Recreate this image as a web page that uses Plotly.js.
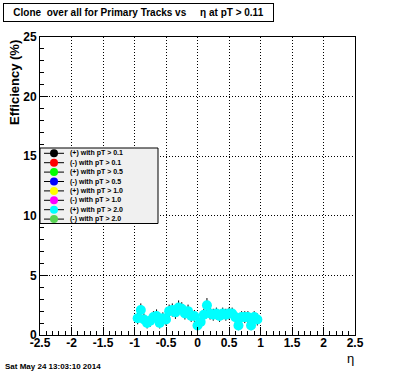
<!DOCTYPE html>
<html>
<head>
<meta charset="utf-8">
<script src="https://cdn.plot.ly/plotly-3.0.1.min.js"></script>
<style>html,body{margin:0;padding:0;background:#fff;}#chart{width:396px;height:372px;}</style>
</head>
<body>
<div id="chart"></div>
<script>
// ---- data ----
const eta = [-0.95,-0.90,-0.85,-0.80,-0.75,-0.70,-0.65,-0.60,-0.55,-0.50,-0.45,-0.40,-0.35,-0.30,-0.25,-0.20,-0.15,-0.10,-0.05,0.00,0.05,0.10,0.15,0.20,0.25,0.30,0.35,0.40,0.45,0.50,0.55,0.60,0.65,0.70,0.75,0.80,0.85,0.90,0.95];
const eff = [1.4,2.1,1.3,1.0,1.2,1.5,1.6,1.0,1.4,1.3,2.0,2.1,1.9,2.3,2.2,1.8,2.0,1.6,1.6,0.8,1.1,1.7,2.5,1.8,1.7,1.8,1.6,1.8,1.7,1.8,1.8,1.5,0.8,1.5,1.5,1.5,0.8,1.5,1.3];
const effErr = [0.5,0.55,0.5,0.45,0.5,0.5,0.55,0.45,0.5,0.5,0.55,0.55,0.55,0.6,0.55,0.5,0.55,0.5,0.5,0.4,0.45,0.5,0.6,0.5,0.5,0.5,0.5,0.5,0.5,0.5,0.5,0.5,0.4,0.5,0.5,0.5,0.4,0.5,0.5];
const legendLabels = ["(+) with pT > 0.1","(-) with pT > 0.1","(+) with pT > 0.5","(-) with pT > 0.5","(+) with pT > 1.0","(-) with pT > 1.0","(+) with pT > 2.0","(-) with pT > 2.0"];
const legendColors = ["#000000","#ff0000","#00ff00","#0000ff","#ffff00","#ff00ff","#00ffff","#59d454"];
const xTickVals = [-2.5,-2,-1.5,-1,-0.5,0,0.5,1,1.5,2,2.5];
const xTickText = ["-2.5","-2","-1.5","-1","-0.5","0","0.5","1","1.5","2","2.5"];
const yTickVals = [0,5,10,15,20,25];
const yTickText = ["0","5","10","15","20","25"];
const titleText = "Clone\u00a0 over all for Primary Tracks vs\u00a0\u00a0\u00a0\u00a0 \u03b7 at pT > 0.11";
const dateText = "Sat May 24 13:03:10 2014";

// ---- layout geometry ----
const W = 396, H = 372;
const L = 40, R = 355, T = 37, B = 335;
const px = x => (x - L) / (R - L);
const py = y => (B - y) / (B - T);
const FONT = "Liberation Sans, Arial, Helvetica, sans-serif";

const traces = [{
  type: 'scatter', mode: 'markers', x: eta, y: eff,
  marker: {color: '#00ffff', size: 10, line: {width: 0}},
  error_y: {type: 'data', array: effErr, visible: true, color: '#000000', thickness: 1, width: 0},
  showlegend: false, hoverinfo: 'skip'
}];

const shapes = [];
const annotations = [];

// legend box
shapes.push({type: 'rect', xref: 'paper', yref: 'paper', x0: px(40), x1: px(158), y0: py(148), y1: py(223.5),
  fillcolor: '#f0f0f0', line: {color: '#000000', width: 1}, layer: 'above'});
legendLabels.forEach((lab, i) => {
  const cy = 153.3 + i * 9.4;
  shapes.push({type: 'line', xref: 'paper', yref: 'paper', x0: px(44), x1: px(64), y0: py(cy), y1: py(cy),
    line: {color: '#000000', width: 1}, layer: 'above'});
  shapes.push({type: 'circle', xref: 'paper', yref: 'paper', x0: px(50), x1: px(58), y0: py(cy - 4), y1: py(cy + 4),
    fillcolor: legendColors[i], line: {color: legendColors[i], width: 0}, layer: 'above'});
  annotations.push({xref: 'paper', yref: 'paper', x: px(68), y: py(cy), xanchor: 'left', yanchor: 'middle',
    text: lab, showarrow: false, font: {family: FONT, size: 7, color: '#000', weight: 'bold'}});
});

// title box
annotations.push({xref: 'paper', yref: 'paper', x: px(3), y: py(3), xanchor: 'left', yanchor: 'top',
  text: titleText, showarrow: false, width: 269, height: 17, align: 'center', valign: 'middle',
  bordercolor: '#000000', borderwidth: 1, borderpad: 0, bgcolor: '#ffffff',
  font: {family: FONT, size: 10, color: '#000', weight: 'bold'}});
// y title
annotations.push({xref: 'paper', yref: 'paper', x: px(14), y: py(83), xanchor: 'center', yanchor: 'middle',
  text: 'Efficiency (%)', textangle: -90, showarrow: false,
  font: {family: FONT, size: 13, color: '#000', weight: 'bold'}});
// x title
annotations.push({xref: 'paper', yref: 'paper', x: px(356), y: py(358.5), xanchor: 'right', yanchor: 'middle',
  text: '\u03b7', showarrow: false, font: {family: FONT, size: 13, color: '#000'}});
// date
annotations.push({xref: 'paper', yref: 'paper', x: px(3), y: py(366), xanchor: 'left', yanchor: 'middle',
  text: dateText, showarrow: false, font: {family: FONT, size: 8, color: '#000', weight: 'bold'}});

const GRIDDASH = '1px,2px';
const layout = {
  width: W, height: H,
  margin: {l: L, r: W - R, t: T, b: H - B, pad: 0},
  paper_bgcolor: '#ffffff', plot_bgcolor: '#ffffff',
  showlegend: false,
  xaxis: {range: [-2.5, 2.5], tickmode: 'array', tickvals: xTickVals, ticktext: xTickText,
    ticks: 'inside', ticklen: 8, tickcolor: '#000', tickwidth: 1, ticklabelstandoff: -3,
    minor: {dtick: 0.1, tick0: 0, ticks: 'inside', ticklen: 4, tickcolor: '#000', showgrid: false},
    showgrid: true, gridcolor: '#000000', griddash: GRIDDASH, gridwidth: 1,
    zeroline: false, showline: true, linecolor: '#000', linewidth: 1, mirror: true,
    tickfont: {family: FONT, size: 12, color: '#000', weight: 'bold'}, fixedrange: true},
  yaxis: {range: [0, 25], tickmode: 'array', tickvals: yTickVals, ticktext: yTickText,
    ticks: 'inside', ticklen: 8, tickcolor: '#000', tickwidth: 1,
    minor: {dtick: 1, tick0: 0, ticks: 'inside', ticklen: 4, tickcolor: '#000', showgrid: false},
    showgrid: true, gridcolor: '#000000', griddash: GRIDDASH, gridwidth: 1,
    zeroline: false, showline: true, linecolor: '#000', linewidth: 1, mirror: true,
    tickfont: {family: FONT, size: 12, color: '#000', weight: 'bold'}, fixedrange: true},
  shapes: shapes, annotations: annotations
};

Plotly.newPlot('chart', traces, layout, {displayModeBar: false, staticPlot: true});
</script>
</body>
</html>
